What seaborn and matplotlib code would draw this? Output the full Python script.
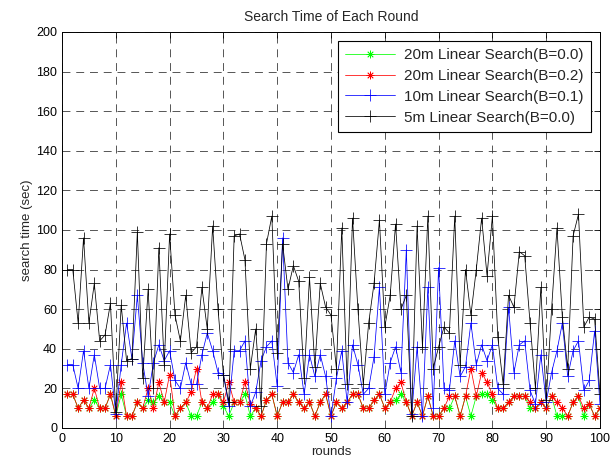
import matplotlib
matplotlib.use("Agg")
import matplotlib.pyplot as plt
import seaborn as sns
import pandas as pd

rounds = list(range(1, 101))

black_5m = [80, 80, 53, 96, 53, 73, 44, 47, 63, 8,
            62, 34, 35, 99, 25, 70, 20, 91, 32, 98,
            57, 44, 67, 38, 41, 71, 50, 102, 60, 27,
            13, 97, 98, 85, 30, 50, 11, 93, 107, 38,
            93, 70, 82, 74, 25, 76, 31, 73, 61, 57,
            30, 101, 22, 106, 60, 22, 53, 73, 105, 51,
            67, 103, 60, 67, 6, 102, 41, 107, 30, 41,
            51, 48, 107, 32, 80, 57, 80, 106, 77, 107,
            46, 22, 67, 61, 89, 87, 53, 20, 71, 14,
            60, 101, 56, 30, 97, 108, 51, 56, 55, 17]

blue_10m = [32, 32, 20, 39, 20, 37, 20, 20, 32, 7,
            32, 53, 35, 67, 33, 16, 33, 42, 34, 39,
            24, 20, 33, 22, 22, 37, 48, 39, 28, 27,
            11, 39, 39, 44, 11, 18, 34, 41, 44, 21,
            96, 33, 28, 37, 17, 37, 26, 37, 26, 6,
            25, 39, 13, 42, 32, 17, 20, 36, 71, 17,
            33, 41, 28, 90, 7, 41, 6, 71, 10, 81,
            20, 19, 44, 26, 31, 53, 32, 42, 34, 42,
            20, 17, 61, 28, 42, 44, 19, 12, 37, 13,
            28, 39, 53, 26, 39, 44, 19, 24, 49, 12]

red_20m = [17, 17, 10, 14, 10, 20, 10, 10, 17, 6,
           23, 6, 6, 13, 10, 20, 10, 23, 13, 27,
           6, 10, 13, 18, 30, 13, 10, 17, 17, 13,
           23, 13, 13, 23, 12, 10, 6, 14, 17, 6,
           13, 13, 17, 13, 10, 13, 6, 13, 17, 6,
           13, 10, 13, 17, 17, 10, 10, 14, 17, 10,
           13, 20, 23, 13, 6, 13, 6, 16, 6, 6,
           10, 16, 16, 6, 16, 30, 16, 28, 23, 17,
           10, 10, 13, 16, 16, 16, 13, 10, 13, 10,
           16, 13, 10, 6, 13, 16, 10, 12, 6, 10]

green_20m = [17, 17, 10, 14, 10, 14, 10, 10, 17, 6,
             17, 6, 6, 13, 10, 14, 13, 16, 13, 13,
             6, 10, 13, 6, 6, 13, 10, 13, 17, 11,
             6, 13, 13, 17, 6, 10, 6, 14, 17, 6,
             13, 13, 17, 13, 10, 13, 6, 13, 17, 6,
             13, 10, 13, 17, 17, 10, 10, 14, 17, 10,
             13, 14, 17, 13, 6, 13, 6, 16, 6, 6,
             10, 10, 16, 6, 16, 6, 16, 17, 17, 14,
             10, 10, 13, 16, 16, 16, 10, 10, 13, 10,
             16, 6, 6, 6, 13, 16, 6, 12, 6, 10]

labels = ["20m Linear Search(B=0.0)", "20m Linear Search(B=0.2)",
          "10m Linear Search(B=0.1)", "5m Linear Search(B=0.0)"]
series = [green_20m, red_20m, blue_10m, black_5m]
colors = ["#00ff00", "#ff0000", "#0000ff", "#000000"]
markers = [(8, 2, 0), (8, 2, 0), "+", "+"]
msizes = [5.5, 5.5, 9, 9]

sns.set_style("white")
plt.rcParams["font.family"] = ["Liberation Sans", "DejaVu Sans"]

fig = plt.figure(figsize=(6.11, 4.70), dpi=100)
ax = fig.add_axes([0.1015, 0.0894, 0.8805, 0.8426])

for lab, vals, c, m, ms in zip(labels, series, colors, markers, msizes):
    df = pd.DataFrame({"rounds": rounds, "t": vals})
    sns.lineplot(data=df, x="rounds", y="t", ax=ax, color=c, marker=m,
                 markersize=ms, linewidth=0.55, markeredgewidth=0.55,
                 markeredgecolor=c, label=lab, estimator=None)

ax.set_xlim(0, 100)
ax.set_ylim(0, 200)
ax.set_xticks(range(0, 101, 10))
ax.set_yticks(range(0, 201, 20))
ax.grid(True, color="#3a3a3a", linestyle=(0, (9.5, 7)), linewidth=0.6)
ax.tick_params(direction="in", top=True, right=True, labelsize=9,
               length=4, width=0.6, colors="black")
for s in ax.spines.values():
    s.set_color("black")
    s.set_linewidth(0.7)
ax.set_title("Search Time of Each Round", fontsize=10, pad=8)
ax.set_xlabel("rounds", fontsize=9.5, labelpad=1)
ax.set_ylabel("search time (sec)", fontsize=9.5, labelpad=2)

leg = ax.legend(loc="upper right", fontsize=11, frameon=True, fancybox=False,
                edgecolor="black", framealpha=1, handlelength=3.3,
                borderaxespad=0.6, labelspacing=0.45, borderpad=0.45,
                handletextpad=0.6, numpoints=1)
leg.get_frame().set_linewidth(0.8)

fig.savefig("out.png", dpi=100)
